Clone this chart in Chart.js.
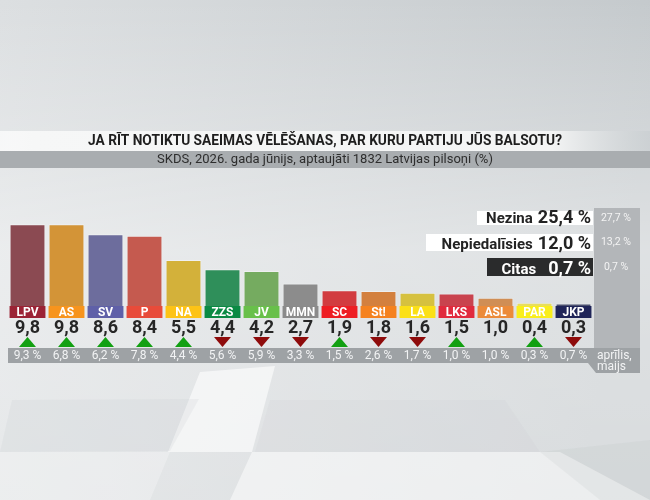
<!DOCTYPE html>
<html>
<head>
<meta charset="utf-8">
<script src="https://cdn.jsdelivr.net/npm/chart.js@4"></script>
<style>
  html, body { margin: 0; padding: 0; background: #dfe2e4; }
  #chart { display: block; }
</style>
</head>
<body>
<canvas id="chart" width="650" height="500"></canvas>
<script>
// survey data
const parties = ['LPV', 'AS', 'SV', 'P', 'NA', 'ZZS', 'JV', 'MMN', 'SC', 'St!', 'LA', 'LKS', 'ASL', 'PAR', 'JKP'];
const current = [9.8, 9.8, 8.6, 8.4, 5.5, 4.4, 4.2, 2.7, 1.9, 1.8, 1.6, 1.5, 1.0, 0.4, 0.3];
const previous = [9.3, 6.8, 6.2, 7.8, 4.4, 5.6, 5.9, 3.3, 1.5, 2.6, 1.7, 1.0, 1.0, 0.3, 0.7];

const barColors = ['#8b4a52', '#d39437', '#6d6d9d', '#c55a4f', '#d3b13a', '#2f8f5a', '#75ab60', '#8c8c8c',
                   '#d23c40', '#d3803e', '#d6c13f', '#c9434e', '#d08e55', '#e8de5c', '#4b4f6e'];
const bandColors = ['#9b2335', '#f7941d', '#5f60a8', '#e84b3a', '#fdc316', '#0b8a44', '#68c04a', '#8a8a8a',
                    '#ee1d23', '#f5821f', '#fbe017', '#e12a3d', '#ec8b3a', '#f9ee1c', '#1f2458'];

const otherLabels = ['Nezina', 'Nepiedalīsies', 'Citas'];
const otherValues = [25.4, 12.0, 0.7];
const otherPrev = [27.7, 13.2, 0.7];

const titleText = 'JA RĪT NOTIKTU SAEIMAS VĒLĒŠANAS, PAR KURU PARTIJU JŪS BALSOTU?';
const subtitleText = 'SKDS, 2026. gada jūnijs, aptaujāti 1832 Latvijas pilsoņi (%)';
const prevPeriod = ['aprīlis,', 'maijs'];

const FONT = "Roboto, 'DejaVu Sans', sans-serif";
const fmt = v => v.toFixed(1).replace('.', ',');

// background, title bands, side boxes
const backdrop = {
  id: 'backdrop',
  beforeDraw(chart) {
    const ctx = chart.ctx;
    ctx.save();
    let g = ctx.createLinearGradient(0, 0, 650, 120);
    g.addColorStop(0, '#dcdfe1');
    g.addColorStop(1, '#c4c9cc');
    ctx.fillStyle = g;
    ctx.fillRect(0, 0, 650, 500);
    g = ctx.createLinearGradient(0, 0, 0, 500);
    g.addColorStop(0, 'rgba(255,255,255,0)');
    g.addColorStop(0.5, 'rgba(255,255,255,0.45)');
    g.addColorStop(1, 'rgba(255,255,255,0.35)');
    ctx.fillStyle = g;
    ctx.fillRect(0, 0, 650, 500);

    // floor tiles (soft)
    const poly = (pts, c) => {
      ctx.beginPath();
      ctx.moveTo(pts[0][0], pts[0][1]);
      pts.slice(1).forEach(p => ctx.lineTo(p[0], p[1]));
      ctx.closePath();
      ctx.fillStyle = c;
      ctx.fill();
    };
    poly([[200, 372], [275, 366], [252, 452], [168, 452]], 'rgba(255,255,255,0.6)');
    poly([[12, 400], [199, 399], [170, 451], [0, 452]], 'rgba(195,200,204,0.18)');
    poly([[270, 400], [505, 400], [540, 452], [255, 452]], 'rgba(195,200,204,0.14)');
    poly([[252, 452], [560, 452], [650, 500], [230, 500]], 'rgba(255,255,255,0.5)');
    poly([[0, 452], [170, 452], [150, 500], [0, 500]], 'rgba(255,255,255,0.25)');
    poly([[540, 452], [650, 440], [650, 500], [600, 500]], 'rgba(180,186,190,0.15)');

    // title band
    g = ctx.createLinearGradient(0, 0, 650, 0);
    g.addColorStop(0, 'rgba(255,255,255,0.7)');
    g.addColorStop(0.05, '#f6f7f7');
    g.addColorStop(0.85, '#f3f4f4');
    g.addColorStop(1, 'rgba(200,205,208,0.6)');
    ctx.fillStyle = g;
    ctx.fillRect(0, 131, 650, 20);
    ctx.fillStyle = '#a9adb0';
    ctx.fillRect(0, 151, 650, 17);

    ctx.textAlign = 'center';
    ctx.textBaseline = 'middle';
    ctx.fillStyle = '#1e1e1e';
    ctx.font = 'bold 14px ' + FONT;
    ctx.fillText(titleText, 325, 141.5, 474);
    ctx.fillStyle = '#2e2e2e';
    ctx.font = '13px ' + FONT;
    ctx.fillText(subtitleText, 325, 159.5, 350);

    // right column with previous values
    ctx.fillStyle = '#b3b6b9';
    ctx.fillRect(594, 208, 46, 141);

    // previous-period strip
    ctx.fillStyle = '#9ea2a5';
    ctx.fillRect(8, 348, 632, 15);
    ctx.beginPath();
    ctx.moveTo(588, 363);
    ctx.lineTo(640, 363);
    ctx.lineTo(640, 373);
    ctx.lineTo(596, 373);
    ctx.closePath();
    ctx.fill();

    // Nezina / Nepiedalīsies / Citas boxes
    const boxes = [[477, 211, 14], [426, 234, 17], [487, 258, 18]];
    otherLabels.forEach((lab, i) => {
      const [x, y, h] = boxes[i];
      const dark = i === 2;
      ctx.fillStyle = dark ? '#2a2b2c' : '#ffffff';
      ctx.fillRect(x, y, 593 - x, h);
      ctx.fillStyle = dark ? '#ffffff' : '#232323';
      ctx.textBaseline = 'alphabetic';
      ctx.textAlign = 'right';
      ctx.font = 'bold 18px ' + FONT;
      const valTxt = fmt(otherValues[i]) + ' %';
      ctx.fillText(valTxt, 591, y + h - 2);
      const vw = ctx.measureText(valTxt).width;
      ctx.font = 'bold 15px ' + FONT;
      ctx.fillText(lab, 591 - vw - (dark ? 12 : 5), y + h - 2.5);
      ctx.textAlign = 'center';
      ctx.textBaseline = 'middle';
      ctx.fillStyle = '#f4f4f4';
      ctx.font = '10.5px ' + FONT;
      ctx.fillText(fmt(otherPrev[i]) + ' %', 616, y + h / 2);
    });
    ctx.restore();
  }
};

// party bands, value labels, change arrows, previous values
const decorations = {
  id: 'decorations',
  afterDatasetsDraw(chart) {
    const ctx = chart.ctx;
    const meta = chart.getDatasetMeta(0);
    const base = chart.scales.y.getPixelForValue(0);
    ctx.save();
    ctx.textAlign = 'center';
    ctx.textBaseline = 'middle';
    meta.data.forEach((bar, i) => {
      const w = bar.width;
      const left = bar.x - w / 2;
      ctx.fillStyle = bandColors[i];
      ctx.fillRect(left, base, w, 12);
      ctx.fillStyle = '#ffffff';
      ctx.font = 'bold 12px ' + FONT;
      ctx.fillText(parties[i], bar.x, base + 6.5);

      ctx.fillStyle = '#262626';
      ctx.font = 'bold 18px ' + FONT;
      ctx.fillText(fmt(current[i]), bar.x, base + 22);

      const d = current[i] - previous[i];
      if (d !== 0) {
        ctx.beginPath();
        if (d > 0) {
          ctx.moveTo(bar.x, base + 31);
          ctx.lineTo(bar.x + 8.5, base + 41);
          ctx.lineTo(bar.x - 8.5, base + 41);
          ctx.fillStyle = '#12a012';
        } else {
          ctx.moveTo(bar.x - 8.5, base + 31);
          ctx.lineTo(bar.x + 8.5, base + 31);
          ctx.lineTo(bar.x, base + 41);
          ctx.fillStyle = '#8e0b0b';
        }
        ctx.closePath();
        ctx.fill();
      }

      ctx.fillStyle = '#f2f3f4';
      ctx.font = '12px ' + FONT;
      ctx.fillText(fmt(previous[i]) + ' %', bar.x, base + 50);
    });
    ctx.textAlign = 'left';
    ctx.fillStyle = '#f2f3f4';
    ctx.font = '12px ' + FONT;
    ctx.fillText(prevPeriod[0], 597, base + 50);
    ctx.fillText(prevPeriod[1], 597, base + 61);
    ctx.restore();
  }
};

new Chart(document.getElementById('chart'), {
  type: 'bar',
  data: {
    labels: parties,
    datasets: [{
      data: current,
      backgroundColor: barColors,
      borderColor: 'rgba(255,255,255,0.35)',
      borderWidth: 1,
      barPercentage: 1,
      categoryPercentage: 0.92
    }]
  },
  options: {
    responsive: false,
    animation: false,
    layout: { padding: { left: 8, right: 57, top: 139, bottom: 194 } },
    plugins: {
      legend: { display: false },
      tooltip: { enabled: false }
    },
    scales: {
      x: { display: false },
      y: { display: false, min: 0, max: 20 }
    }
  },
  plugins: [backdrop, decorations]
});
</script>
</body>
</html>
